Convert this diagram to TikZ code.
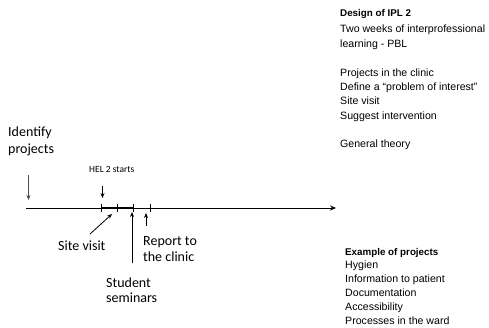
\documentclass[tikz,border=0pt]{standalone}
\usepackage{fontspec}
\setmainfont{Liberation Sans}
\newfontfamily\calib{Carlito}
\usetikzlibrary{arrows.meta}
\begin{document}
\begin{tikzpicture}[x=1pt,y=-1pt,
  lbl/.style={font=\calib\fontsize{14}{16}\selectfont, inner sep=0pt, anchor=base west},
  small/.style={font=\calib\fontsize{9.5}{11}\selectfont, inner sep=0pt, anchor=base west},
  rtxt/.style={font=\fontsize{10.6}{12}\selectfont, inner sep=0pt, anchor=base west},
  rbold/.style={rtxt, font=\fontsize{9.8}{12}\selectfont\bfseries},
  ptr/.style={-{Stealth[length=5pt,width=4pt]}, line width=0.8pt},
  tick/.style={line width=0.8pt}]
\useasboundingbox (0,0) rectangle (489,327);
% timeline
\coordinate (t0) at (26,208);
\coordinate (t1) at (336,208);
\draw[-{Stealth[length=6pt,width=5pt]}, line width=0.8pt] (t0) -- (t1);
\coordinate (k1) at (101,208);
\coordinate (k2) at (117.5,208);
\coordinate (k3) at (133.5,208);
\coordinate (k4) at (150,208);
\draw[line width=2.2pt] (k1) -- (k3);
\foreach \k in {k1,k2,k3,k4} \draw[tick] ([yshift=-4pt]\k) -- ([yshift=4pt]\k);
% left labels
\node[lbl] (id1) at (8,136) {Identify};
\node[lbl] (id2) at (8,153) {projects};
\coordinate (ida) at (28.5,175);
\coordinate (idb) at (28.5,200);
\draw[ptr, line width=0.6pt, draw=black!70] (ida) -- (idb);
\node[small] (hel) at (89,172) {HEL 2 starts};
\coordinate (hela) at (102.5,186);
\coordinate (helb) at (102.5,198);
\draw[ptr, line width=1pt] (hela) -- (helb);
% below labels
\coordinate (sva) at (90,234);
\coordinate (svb) at (112,214);
\draw[ptr] (sva) -- (svb);
\node[lbl] (sv) at (58,250) {Site visit};
\coordinate (ssa) at (132,263);
\coordinate (ssb) at (132,212);
\draw[ptr] (ssa) -- (ssb);
\node[lbl] (ss1) at (106,287) {Student};
\node[lbl] (ss2) at (106,302) {seminars};
\coordinate (rpa) at (146,226);
\coordinate (rpb) at (146,213);
\draw[ptr] (rpa) -- (rpb);
\node[lbl] (rp1) at (143,245) {Report to};
\node[lbl] (rp2) at (143,261) {the clinic};
% right: design
\node[rbold] (d0) at (340,16) {Design of IPL 2};
\node[rtxt] (d1) at (340,32) {Two weeks of interprofessional};
\node[rtxt] (d2) at (340,47) {learning - PBL};
\node[rtxt] (d3) at (340,76) {Projects in the clinic};
\node[rtxt] (d4) at (340,90) {Define a “problem of interest”};
\node[rtxt] (d5) at (340,104.5) {Site visit};
\node[rtxt] (d6) at (340,119) {Suggest intervention};
\node[rtxt] (d7) at (340,147.5) {General theory};
% right: examples
\node[rbold] (e0) at (345,255) {Example of projects};
\node[rtxt] (e1) at (345,268.5) {Hygien};
\node[rtxt] (e2) at (345,282.5) {Information to patient};
\node[rtxt] (e3) at (345,296.5) {Documentation};
\node[rtxt] (e4) at (345,310.5) {Accessibility};
\node[rtxt] (e5) at (345,324) {Processes in the ward};
\end{tikzpicture}
\end{document}
